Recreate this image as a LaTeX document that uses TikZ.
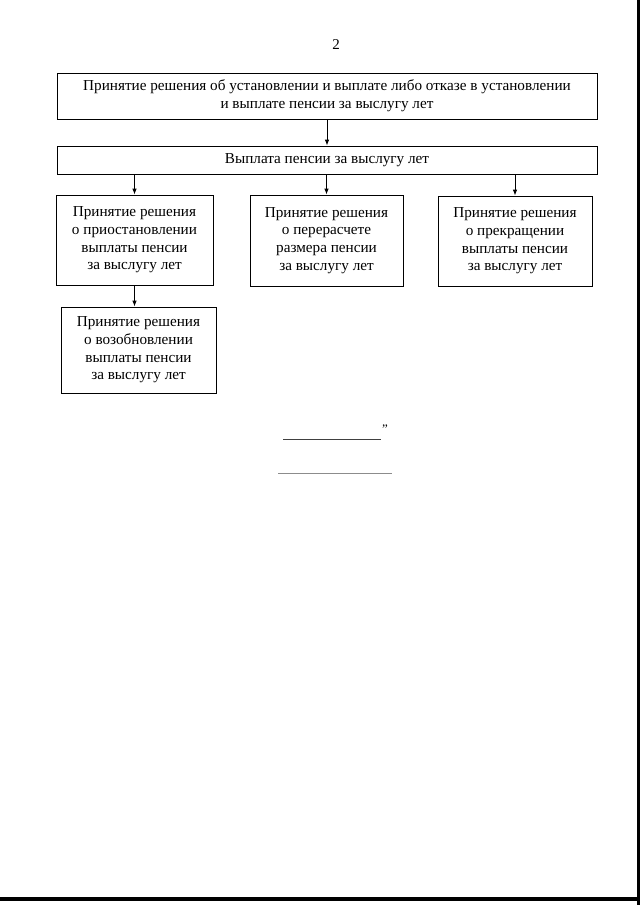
\documentclass[tikz,border=0pt]{standalone}
\usepackage{fontspec}
\setmainfont{Liberation Serif}
\usetikzlibrary{arrows.meta}

\tikzset{
  blk/.style={draw, line width=0.8pt, align=center, inner sep=0pt,
    font=\fontsize{15.2}{17.7}\selectfont},
  arr/.style={-{Latex[length=6pt,width=4.5pt]}, line width=0.8pt}
}

\begin{document}
\begin{tikzpicture}[x=1pt,y=-1pt]
  \useasboundingbox (0,0) rectangle (640,905);
  % page number
  \node[font=\fontsize{15}{17}\selectfont] (pnum) at (336,45) {2};

  \node[blk, minimum width=540pt, minimum height=46pt] (top) at (327,96)
    {Принятие решения об установлении и выплате либо отказе в установлении\\и выплате пенсии за выслугу лет};
  \node[blk, minimum width=540pt, minimum height=28pt] (pay) at (327,160)
    {Выплата пенсии за выслугу лет};

  \node[blk, minimum width=157pt, minimum height=90pt] (stop) at (134.5,240)
    {Принятие решения\\о приостановлении\\выплаты пенсии\\за выслугу лет};
  \node[blk, minimum width=153pt, minimum height=91pt] (recalc) at (326.5,240.5)
    {Принятие решения\\о перерасчете\\размера пенсии\\за выслугу лет};
  \node[blk, minimum width=154pt, minimum height=90pt] (cease) at (515,241)
    {Принятие решения\\о прекращении\\выплаты пенсии\\за выслугу лет};
  \node[blk, minimum width=155pt, minimum height=86pt] (resume) at (138.5,350)
    {Принятие решения\\о возобновлении\\выплаты пенсии\\за выслугу лет};

  \draw[arr] (top) -- (pay);
  \draw[arr] (pay.south -| stop.north) -- (stop.north);
  \draw[arr] (pay.south -| recalc.north) -- (recalc.north);
  \draw[arr] (pay.south -| cease.north) -- (cease.north);
  \draw[arr] (stop.south) -- (stop.south |- resume.north);

  % signature lines
  \coordinate (sa) at (283,439);
  \coordinate (sb) at (381,439);
  \coordinate (ta) at (278,473);
  \coordinate (tb) at (392,473);
  \draw[line width=0.9pt, black!75] (sa) -- (sb);
  \node[font=\fontsize{13}{14}\selectfont, anchor=north west, inner sep=0pt] (qm) at (382,425) {''};
  \draw[line width=0.7pt, black!45] (ta) -- (tb);

  % scan edges
  \fill[black] (636.5,0) rectangle (640,905);
  \fill[black] (0,897) rectangle (640,901);
\end{tikzpicture}
\end{document}
